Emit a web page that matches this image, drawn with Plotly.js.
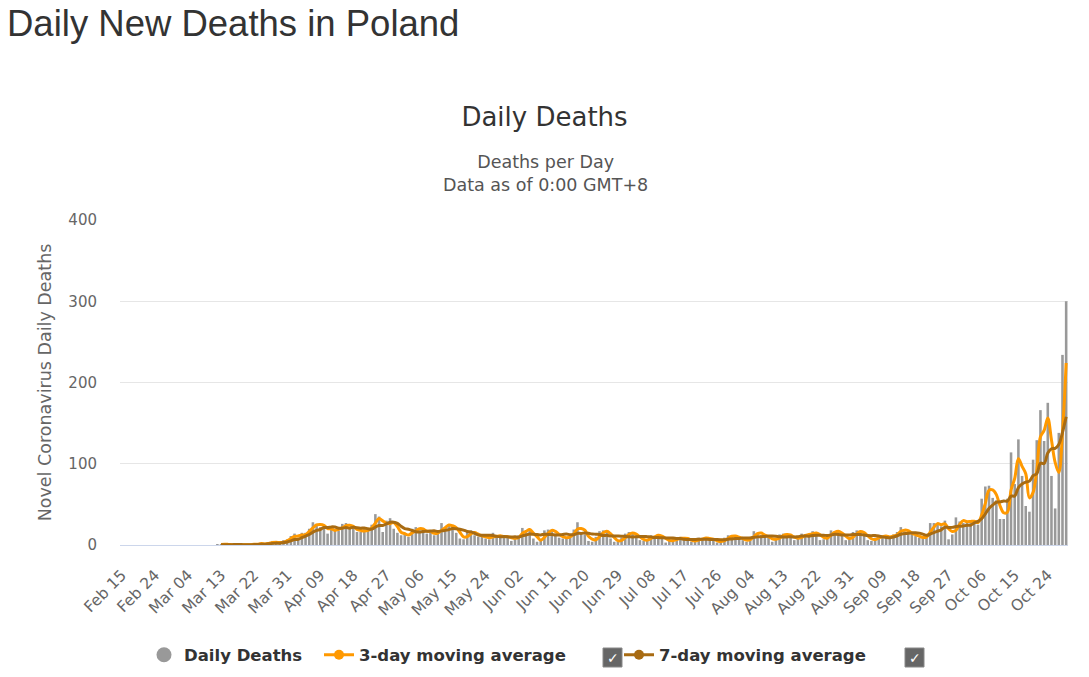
<!DOCTYPE html>
<html>
<head>
<meta charset="utf-8">
<script src="https://cdn.plot.ly/plotly-3.0.1.min.js"></script>
<style>
html,body{margin:0;padding:0;background:#fff;width:1089px;height:677px;overflow:hidden;}
#chart{position:absolute;left:0;top:0;width:1089px;height:677px;}
#heading{position:absolute;left:7px;top:3px;margin:0;font-family:"Liberation Sans",Arial,sans-serif;font-size:36.5px;font-weight:normal;color:#333;white-space:nowrap;line-height:normal;}
</style>
</head>
<body>
<div id="chart"></div>
<h1 id="heading">Daily New Deaths in Poland</h1>
<script>
// ---- data (Feb 15 2020 .. Oct 29 2020, one value per day) ----
const startDate = '2020-02-15';
const dailyDeaths = [
  // Feb 15 - Mar 11
  0,0,0,0,0,0,0,0,0,0,0,0,0,0,0,0,0,0,0,0,0,0,0,0,0,0,
  // Mar 12 - Mar 31
  1,1,1,0,0,1,0,0,1,0,2,1,2,1,3,5,2,2,6,7,
  // Apr
  11,14,8,15,15,20,28,26,22,25,14,21,19,18,26,27,20,22,16,16,20,18,25,38,35,16,30,33,20,15,
  // May
  12,15,10,20,22,18,19,14,17,12,15,27,22,25,24,15,8,7,16,18,12,10,12,8,7,15,10,9,12,10,5,
  // Jun
  10,12,21,17,19,8,4,6,18,19,17,14,9,8,10,12,19,28,14,13,5,4,10,17,18,16,8,4,4,9,
  // Jul
  14,16,14,10,6,5,7,12,11,13,9,3,5,8,7,10,8,6,4,5,9,8,9,7,6,3,4,9,12,11,10,
  // Aug
  8,6,4,10,17,15,12,10,9,4,8,13,14,12,11,6,8,14,13,12,17,15,6,7,12,18,17,16,11,6,7,
  // Sep
  16,18,16,12,6,5,9,12,10,11,9,13,16,22,17,14,13,11,9,8,12,27,27,25,23,30,7,13,34,29,
  // Oct 1 - Oct 29
  27,30,30,28,25,57,72,73,58,55,32,32,57,114,75,130,85,48,41,105,129,166,128,175,85,45,138,234,300
];
// moving averages start on Mar 13 (27 leading empty days)
const leadingEmpty = 27;
const avg3Values = [
  0.7,1,0.7,0.3,0.3,0.3,0.3,0.3,0.3,1,1,1.7,1.3,2,3,3.3,3,3.3,5,
  8,10.7,11,12.3,12.7,16.7,21,24.7,25.3,24.3,20.3,20,18,19.3,21,23.7,24.3,23,19.3,18,17.3,18,21,27,32.7,29.7,27,26.3,27.7,22.7,
  15.7,14,12.3,15,17.3,20,19.7,17,16.7,14.3,14.7,18,21.3,24.7,23.7,21.3,15.7,10,10.3,13.7,15.3,13.3,11.3,10,9,10,10.7,11.3,10.3,10.3,9,
  8.3,9,14.3,16.7,19,14.7,10.3,6,9.3,14.3,18,16.7,13.3,10.3,9,10,13.7,19.7,20.3,18.3,10.7,7.3,6.3,10.3,15,17,14,9.3,5.3,5.7,
  9,13,14.7,13.3,10,7,6,8,10,12,11,8.3,5.7,5.3,6.7,8.3,8.3,8,6,5,6,7.3,8.7,8,7.3,5.3,4.3,5.3,8.3,10.7,11,
  9.7,8,6,6.7,10.3,14,14.7,12.3,10.3,7.7,7,8.3,11.7,13,12.3,9.7,8.3,9.3,11.7,13,14,14.7,12.7,9.3,8.3,12.3,15.7,17,14.7,11,8,
  9.7,13.7,16.7,15.3,11.3,7.7,6.7,8.7,10.3,11,10,11,12.7,17,18.3,17.7,14.7,12.7,11,9.3,9.7,15.7,22,26.3,25,26,20,16.7,18,25.3,
  30,28.7,29,29.3,27.7,36.7,51.3,67.3,67.7,62,48.3,39.7,40.3,67.7,82,106.3,96.7,87.7,58,64.7,91.7,133.3,141,156.3,129.3,101.7,89.3,139,224
];
const avg7Values = [
  0.3,0.4,0.4,0.4,0.6,0.6,0.4,0.4,0.3,0.6,0.7,0.9,1,1.4,2,2.3,2.3,3,3.7,
  5.1,6.7,7.1,9,10.9,12.9,15.9,18,19.1,21.6,21.4,22.3,22.1,20.7,20.7,21.4,20.7,21.9,21.1,20.7,21,19.9,19.6,22.1,24,24,26,27.9,28.1,26.7,
  23,20.1,19.3,17.9,16.3,16,16.6,16.9,17.1,17.4,16.7,17.4,18,18.9,20.3,20,19.4,18.3,16.7,16.1,14.3,12.3,11.9,11.9,11.9,11.7,10.6,10.1,10.4,10.1,9.7,
  10.1,9.7,11.3,12.4,13.4,13.1,13,12.4,13.3,13,13,12.3,12.4,13,13.6,12.7,12.7,14.3,14.3,14.9,14.4,13.6,13.3,13,11.6,11.9,11.1,11,11,10.9,
  10.4,10.1,9.9,10.1,10.4,10.6,10.3,10,9.3,9.1,9,8.6,8.6,8.7,8,7.9,7.1,6.7,6.9,6.9,7,7.1,7,6.9,6.9,6.7,6.6,6.6,7.1,7.4,7.9,
  8.1,8.6,8.6,8.7,9.4,10,10.3,10.6,11,11,10.7,10.1,10,10,10.1,9.7,10.3,11.1,11.1,10.9,11.6,12.1,12.1,12,11.7,12.4,13.1,13,12.4,12.4,12.4,
  13,13,12.9,12.3,11.6,11.4,11.7,11.1,10,9.3,8.9,9.9,11.4,13.3,14,14.6,14.9,15.1,14.6,13.4,12,13.4,15.3,17,18.7,21.7,21.6,21.7,22.7,23,
  23.3,24.3,24.3,27.3,29,32.3,38.4,45,49,52.6,53.1,54.1,54.1,60.1,60.4,70.7,75,77.3,78.6,85.4,87.6,100.6,100.3,113.1,118.4,119,123.7,138.7,157.9
];
const seriesNames = ['Daily Deaths', '3-day moving average', '7-day moving average'];
const titleText = 'Daily Deaths';
const subtitleLines = ['Deaths per Day', 'Data as of 0:00 GMT+8'];
const yTitle = 'Novel Coronavirus Daily Deaths';

// ---- build categories (calendar days) ----
const dates = dailyDeaths.map((_, i) => {
  const d = new Date(startDate + 'T00:00:00Z');
  d.setUTCDate(d.getUTCDate() + i);
  return d.toISOString().slice(0, 10);
});
const pad = Array(leadingEmpty).fill(null);
const avg3 = pad.concat(avg3Values);
const avg7 = pad.concat(avg7Values);

// ---- geometry helpers (pixel -> paper) ----
const W = 1089, H = 677;
const M = {l: 120, r: 21, t: 220, b: 132};
const PW = W - M.l - M.r, PH = H - M.t - M.b;
const px = x => (x - M.l) / PW;
const py = y => (H - M.b - y) / PH;

const GREY = '#999999', ORANGE = '#FF9900', BROWN = '#A86B12';
const FONT = 'DejaVu Sans, Verdana, sans-serif';

const traces = [
  {type: 'bar', x: dates, y: dailyDeaths, marker: {color: GREY}, name: seriesNames[0],
   showlegend: false, legendgroup: 'd', hoverinfo: 'x+y'},
  {type: 'scatter', mode: 'lines', x: dates, y: avg3, name: seriesNames[1],
   line: {color: ORANGE, width: 3, shape: 'spline', smoothing: 1}, showlegend: false, legendgroup: 'a3', connectgaps: false},
  {type: 'scatter', mode: 'lines', x: dates, y: avg7, name: seriesNames[2],
   line: {color: BROWN, width: 3, shape: 'spline', smoothing: 1}, showlegend: false, legendgroup: 'a7', connectgaps: false},
  // legend entries
  {type: 'scatter', mode: 'markers', x: [null], y: [null], name: seriesNames[0], legendgroup: 'd',
   marker: {color: GREY, size: 15, symbol: 'circle'}, legend: 'legend', hoverinfo: 'skip'},
  {type: 'scatter', mode: 'lines+markers', x: [null], y: [null], name: seriesNames[1], legendgroup: 'a3',
   line: {color: ORANGE, width: 3}, marker: {color: ORANGE, size: 10, symbol: 'circle'}, legend: 'legend2', hoverinfo: 'skip'},
  {type: 'scatter', mode: 'lines+markers', x: [null], y: [null], name: seriesNames[2], legendgroup: 'a7',
   line: {color: BROWN, width: 3}, marker: {color: BROWN, size: 10, symbol: 'circle'}, legend: 'legend3', hoverinfo: 'skip'}
];

const legendBase = {
  orientation: 'h', xanchor: 'left', yanchor: 'middle', bgcolor: 'rgba(0,0,0,0)',
  borderwidth: 0, font: {family: FONT, size: 16.5, color: '#333', weight: 'bold'},
  itemclick: false, itemdoubleclick: false
};

const checkboxes = [603, 905];
const shapes = checkboxes.map(x0 => ({
  type: 'rect', xref: 'paper', yref: 'paper', layer: 'above',
  x0: px(x0), x1: px(x0 + 19), y0: py(667), y1: py(648),
  fillcolor: '#666666', line: {color: '#888888', width: 1}
}));
const annotations = [
  {xref: 'paper', yref: 'paper', x: px(545), y: py(173), xanchor: 'center', yanchor: 'middle',
   showarrow: false, text: subtitleLines.join('<br>'), font: {family: FONT, size: 17.5, color: '#555'}, align: 'center'}
].concat(checkboxes.map(x0 => ({
  xref: 'paper', yref: 'paper', x: px(x0 + 9.5), y: py(657.5), xanchor: 'center', yanchor: 'middle',
  showarrow: false, text: '\u2713', font: {family: FONT, size: 14, color: '#ffffff'}
})));

const layout = {
  width: W, height: H,
  margin: {l: M.l, r: M.r, t: M.t, b: M.b, pad: 0, autoexpand: false},
  paper_bgcolor: '#ffffff', plot_bgcolor: '#ffffff',
  font: {family: FONT, color: '#666'},
  title: {text: titleText, x: 0.5, xref: 'container', xanchor: 'center',
          y: 1 - 117 / H, yref: 'container', yanchor: 'middle',
          font: {family: FONT, size: 26, color: '#333'}},
  bargap: 0.3,
  hovermode: 'x',
  xaxis: {
    type: 'date', range: ['2020-02-14 12:00', '2020-10-29 12:00'],
    tick0: startDate, dtick: 9 * 86400000, tickformat: '%b %d', tickangle: -45,
    tickfont: {family: FONT, size: 15.5, color: '#666'},
    showgrid: false, zeroline: false, showline: true, linecolor: '#ccd6eb', linewidth: 1,
    ticks: '', ticklabelstandoff: 14, automargin: false, fixedrange: true
  },
  yaxis: {
    range: [0, 400], tick0: 0, dtick: 100, gridcolor: '#e6e6e6', gridwidth: 1,
    zeroline: false, showline: false, ticks: '', ticklabelstandoff: 22,
    tickfont: {family: FONT, size: 15, color: '#666'},
    title: {text: yTitle, standoff: 12, font: {family: FONT, size: 17.5, color: '#666'}},
    automargin: false, fixedrange: true
  },
  legend: Object.assign({}, legendBase, {x: px(144), y: py(655)}),
  legend2: Object.assign({}, legendBase, {x: px(319), y: py(655)}),
  legend3: Object.assign({}, legendBase, {x: px(619), y: py(655)}),
  shapes: shapes,
  annotations: annotations
};

Plotly.newPlot('chart', traces, layout, {displayModeBar: false, staticPlot: false});
</script>
</body>
</html>
